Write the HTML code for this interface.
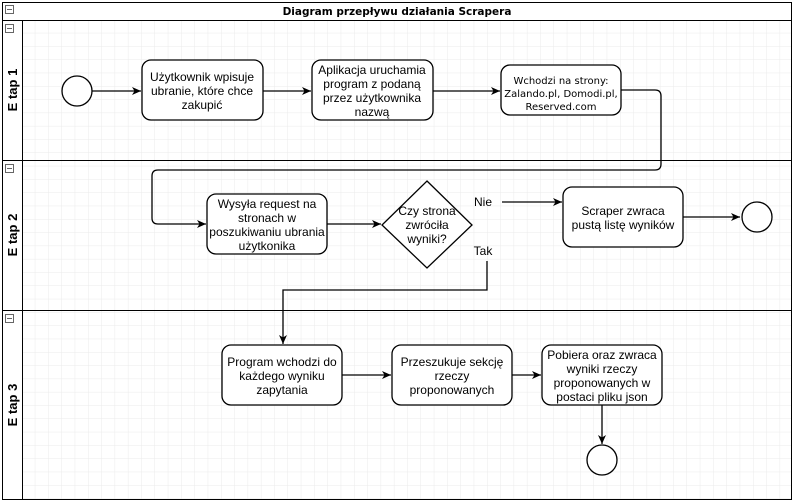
<!DOCTYPE html>
<html><head><meta charset="utf-8"><style>
html,body{margin:0;padding:0;background:#fff;}
svg{display:block;font-family:"Liberation Sans",Arial,sans-serif;}
</style></head><body>
<svg width="795" height="504" viewBox="0 0 795 504" xmlns="http://www.w3.org/2000/svg">
<defs>
<pattern id="g" width="13.3" height="13.3" patternUnits="userSpaceOnUse" x="22" y="20">
<path d="M13.3 0V13.3H0" fill="none" stroke="#ebebeb" stroke-width="1"/>
</pattern>
<marker id="a" markerWidth="10" markerHeight="10" refX="9" refY="5" orient="auto" markerUnits="userSpaceOnUse">
<path d="M0,1 L9,5 L0,9 L2.5,5 Z" fill="#000"/>
</marker>
</defs>
<rect x="0" y="0" width="795" height="504" fill="#fff"/>
<rect x="22" y="20" width="770" height="480" fill="url(#g)"/>
<g fill="none" stroke="#000" stroke-width="1">
<rect x="2.5" y="2.5" width="789" height="497"/>
<line x1="2.5" y1="20.5" x2="791.5" y2="20.5"/>
<line x1="2.5" y1="160.5" x2="791.5" y2="160.5"/>
<line x1="2.5" y1="310.5" x2="791.5" y2="310.5"/>
<line x1="22.5" y1="20.5" x2="22.5" y2="499.5"/>
</g>
<g fill="#fff" stroke="#666" stroke-width="1">
<rect x="5.5" y="5.5" width="8" height="8"/><line x1="7" y1="9.5" x2="12" y2="9.5"/>
<rect x="5.5" y="24.5" width="8" height="8"/><line x1="7" y1="28.5" x2="12" y2="28.5"/>
<rect x="5.5" y="164.5" width="8" height="8"/><line x1="7" y1="168.5" x2="12" y2="168.5"/>
<rect x="5.5" y="314.5" width="8" height="8"/><line x1="7" y1="318.5" x2="12" y2="318.5"/>
</g>
<text x="397" y="15" text-anchor="middle" font-family="DejaVu Sans,sans-serif" font-size="10.5" font-weight="bold">Diagram przepływu działania Scrapera</text>
<g font-size="13" font-weight="bold" text-anchor="middle">
<text transform="translate(17,90) rotate(-90)">E tap 1</text>
<text transform="translate(17,235) rotate(-90)">E tap 2</text>
<text transform="translate(17,405) rotate(-90)">E tap 3</text>
</g>
<g fill="none" stroke="#000" stroke-width="1.3">
<path d="M92 91H141" marker-end="url(#a)"/>
<path d="M263 91H311" marker-end="url(#a)"/>
<path d="M433 91H500" marker-end="url(#a)"/>
<path d="M621 90H655Q661 90 661 96V164Q661 170 655 170H158Q152 170 152 176V218Q152 224 158 224H206" marker-end="url(#a)"/>
<path d="M327 224H381" marker-end="url(#a)"/>
<path d="M502 202H562" marker-end="url(#a)"/>
<path d="M683 217H740" marker-end="url(#a)"/>
<path d="M487 261V290H283V344" marker-end="url(#a)"/>
<path d="M342 375H391" marker-end="url(#a)"/>
<path d="M512 375H541" marker-end="url(#a)"/>
<path d="M602 405V444" marker-end="url(#a)"/>
</g>
<g fill="#fff" stroke="#000" stroke-width="1.3">
<circle cx="77" cy="91" r="15"/>
<circle cx="757" cy="217" r="15"/>
<circle cx="602" cy="460" r="15"/>
<rect x="142" y="60" width="121" height="60" rx="9"/>
<rect x="312" y="60" width="121" height="60" rx="9"/>
<rect x="501" y="65" width="120" height="50" rx="9"/>
<rect x="207" y="194" width="120" height="60" rx="9"/>
<path d="M427 181L472 225L427 268L382 225Z"/>
<rect x="563" y="187" width="120" height="60" rx="9"/>
<rect x="222" y="345" width="120" height="60" rx="9"/>
<rect x="392" y="345" width="120" height="60" rx="9"/>
<rect x="542" y="345" width="120" height="60" rx="9"/>
</g>
<g font-size="12" text-anchor="middle" fill="#000">
<text x="202" y="81">Użytkownik wpisuje</text><text x="202" y="95">ubranie, które chce</text><text x="202" y="109">zakupić</text>
<text x="372" y="74">Aplikacja uruchamia</text><text x="372" y="88">program z podaną</text><text x="372" y="102">przez użytkownika</text><text x="372" y="116">nazwą</text>
<text x="267" y="208">Wysyła request na</text><text x="267" y="222">stronach w</text><text x="267" y="236">poszukiwaniu ubrania</text><text x="267" y="250">użytkonika</text>
<text x="427" y="215">Czy strona</text><text x="427" y="229">zwróciła</text><text x="427" y="243">wyniki?</text>
<text x="483" y="206">Nie</text><text x="483" y="255">Tak</text>
<text x="623" y="215">Scraper zwraca</text><text x="623" y="229">pustą listę wyników</text>
<text x="282" y="366">Program wchodzi do</text><text x="282" y="380">każdego wyniku</text><text x="282" y="394">zapytania</text>
<text x="452" y="366">Przeszukuje sekcję</text><text x="452" y="380">rzeczy</text><text x="452" y="394">proponowanych</text>
<text x="602" y="359">Pobiera oraz zwraca</text><text x="602" y="373">wyniki rzeczy</text><text x="602" y="387">proponowanych w</text><text x="602" y="401">postaci pliku json</text>
</g>
<g font-family="DejaVu Sans,sans-serif" font-size="10" text-anchor="middle">
<text x="561" y="84">Wchodzi na strony:</text><text x="561" y="97">Zalando.pl, Domodi.pl,</text><text x="561" y="110">Reserved.com</text>
</g>
</svg>
</body></html>
